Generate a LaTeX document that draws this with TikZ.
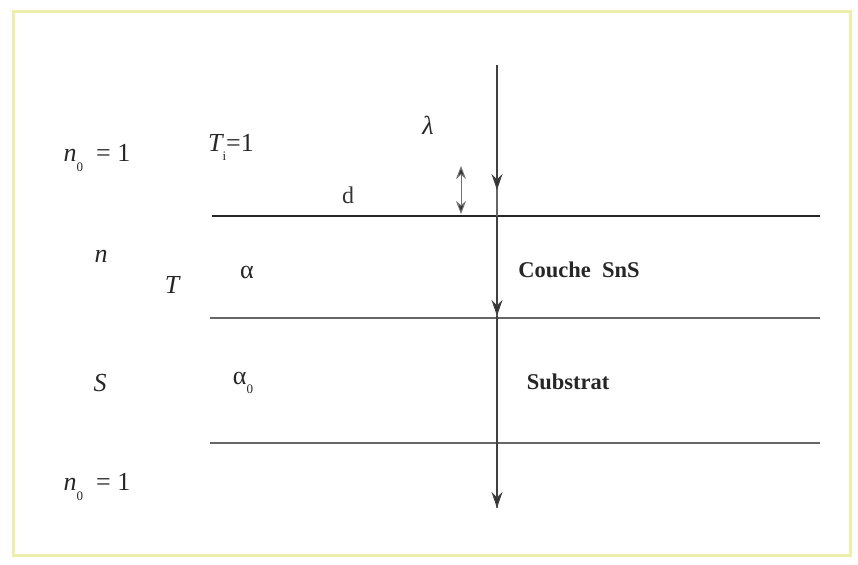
\documentclass[tikz,border=0pt]{standalone}
\usepackage{fontspec}
\setmainfont{Liberation Serif}
\usetikzlibrary{arrows.meta}
\newcommand{\sbx}[1]{\raisebox{-0.35em}{\fontsize{13}{14}\selectfont\upshape #1}}
\begin{document}
\begin{tikzpicture}[x=1pt,y=-1pt,
  lbl/.style={font=\fontsize{26}{30}\selectfont\itshape, inner sep=0pt, text=black!85},
  wlbl/.style={font=\fontsize{22.5}{26}\selectfont\bfseries, inner sep=0pt, text=black!85},
  iface/.style={line width=1.6pt, draw=black!60},
  ray/.style={line width=1.2pt, draw=black!75, -{Stealth[length=16pt,width=11pt,fill=black!80]}}]
\useasboundingbox (0,0) rectangle (858,564);
\draw[line width=3pt, draw={rgb,255:red,236;green,238;blue,170}] (13,12) rectangle (850,555);
% interfaces
\coordinate (t1) at (212,216); \coordinate (t2) at (820,216);
\coordinate (m1) at (210,318); \coordinate (m2) at (820,318);
\coordinate (b1) at (210,443); \coordinate (b2) at (820,443);
\draw[line width=1.6pt, draw=black!85] (t1) -- (t2);
\draw[iface] (m1) -- (m2);
\draw[iface] (b1) -- (b2);
% ray
\coordinate (r0) at (497,65);
\coordinate (r1) at (497,190);
\coordinate (r2) at (497,216);
\coordinate (r3) at (497,316);
\coordinate (r4) at (497,508);
\draw[line width=1.2pt, draw=black!60] (r0) -- (r4);
\draw[ray] (r0) -- (r1);
\draw[ray] (r2) -- (r3);
\draw[ray] (r3) -- (r4);
% double arrow
\coordinate (d1) at (461,166); \coordinate (d2) at (461,214);
\draw[line width=1pt, draw=black!55, {Stealth[length=13pt,width=10pt,fill=black!80]}-{Stealth[length=13pt,width=10pt,fill=black!80]}] (d1) -- (d2);
% labels
\node[lbl] (lam) at (428,125) {λ};
\node[lbl, font=\fontsize{24}{28}\selectfont, text=black!80] (d) at (348,195) {d};
\node[lbl] (n0a) at (97,158) {n\sbx{0}\upshape\ \ = 1};
\node[lbl] (Ti) at (231,147) {T\sbx{i}\upshape =1};
\node[lbl] (n) at (101,256) {n};
\node[lbl] (T) at (172,285) {T};
\node[lbl] (alpha) at (247,272) {\upshape α};
\node[lbl] (S) at (100,383) {S};
\node[lbl] (alpha0) at (243,383) {\upshape α\sbx{0}};
\node[wlbl] (couche) at (579,270) {Couche\ \ SnS};
\node[wlbl] (sub) at (568,382) {Substrat};
\node[lbl] (n0b) at (97,487) {n\sbx{0}\upshape\ \ = 1};
\end{tikzpicture}
\end{document}
